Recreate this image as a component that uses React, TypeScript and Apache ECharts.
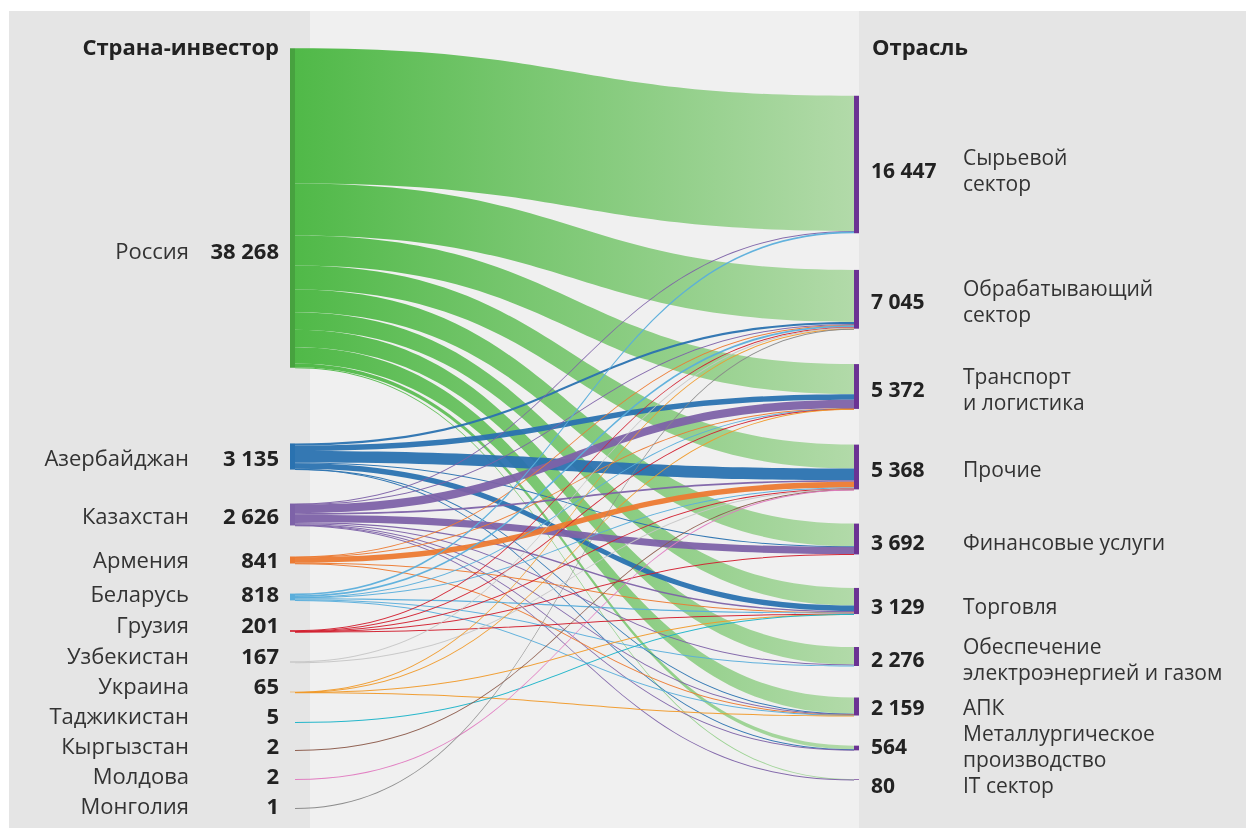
import React, { useEffect, useRef } from 'react';
import * as echarts from 'echarts';

// ---------- data ----------
const countries = ['Россия', 'Азербайджан', 'Казахстан', 'Армения', 'Беларусь', 'Грузия', 'Узбекистан', 'Украина', 'Таджикистан', 'Кыргызстан', 'Молдова', 'Монголия'];
const countryTotals = [38268, 3135, 2626, 841, 818, 201, 167, 65, 5, 2, 2, 1];

const sectors = ['Сырьевой сектор', 'Обрабатывающий сектор', 'Транспорт и логистика', 'Прочие', 'Финансовые услуги', 'Торговля', 'Обеспечение электроэнергией и газом', 'АПК', 'Металлургическое производство', 'IT сектор'];
const sectorLines = [['Сырьевой', 'сектор'], ['Обрабатывающий', 'сектор'], ['Транспорт', 'и логистика'], ['Прочие'], ['Финансовые услуги'], ['Торговля'], ['Обеспечение', 'электроэнергией и газом'], ['АПК'], ['Металлургическое', 'производство'], ['IT сектор']];
const sectorTotals = [16447, 7045, 5372, 5368, 3692, 3129, 2276, 2159, 564, 80];

// flows: one array per country, values in the order of `sectors`
const russiaFlows = [16187, 6234, 3613, 2870, 2716, 2108, 2106, 1941, 444, 50];
const azerbaijanFlows = [0, 250, 649, 1396, 80, 650, 0, 50, 60, 0];
const kazakhstanFlows = [60, 90, 1000, 200, 856, 160, 110, 60, 60, 30];
const armeniaFlows = [0, 50, 30, 681, 0, 40, 0, 40, 0, 0];
const belarusFlows = [200, 220, 30, 120, 0, 130, 60, 58, 0, 0];
const georgiaFlows = [0, 60, 40, 40, 40, 21, 0, 0, 0, 0];
const uzbekistanFlows = [0, 110, 0, 57, 0, 0, 0, 0, 0, 0];
const ukraineFlows = [0, 30, 10, 0, 0, 15, 0, 10, 0, 0];
const tajikistanFlows = [0, 0, 0, 0, 0, 5, 0, 0, 0, 0];
const kyrgyzstanFlows = [0, 0, 0, 2, 0, 0, 0, 0, 0, 0];
const moldovaFlows = [0, 0, 0, 2, 0, 0, 0, 0, 0, 0];
const mongoliaFlows = [0, 1, 0, 0, 0, 0, 0, 0, 0, 0];
const flows = [russiaFlows, azerbaijanFlows, kazakhstanFlows, armeniaFlows, belarusFlows, georgiaFlows, uzbekistanFlows, ukraineFlows, tajikistanFlows, kyrgyzstanFlows, moldovaFlows, mongoliaFlows];

// ---------- styles / layout ----------
const FONT = '"Open Sans", "Noto Sans", sans-serif';
const FS_LEFT = 22;
const FS_RIGHT = 21;
const LH = 26;
const countryColors = ['#4fb947', '#2a72b0', '#7d62a8', '#ec7a32', '#5aaedb', '#d2202f', '#c6c6c6', '#f09a2a', '#1ab3c8', '#8b5a4a', '#e07ac0', '#888888'];
const countryNodeColors = ['#47a23f', '#2a72b0', '#7d62a8', '#ec7a32', '#5aaedb', '#d2202f', '#c6c6c6', '#f09a2a', '#1ab3c8', '#222222', '#e07ac0', '#888888'];
const sectorColor = '#6b3393';

const SERIES_TOP = 42;
const SERIES_H = 770;
const NODE_GAP = 35;
const W = 1246;
const H = 829;

// node vertical centres (px) and label centres (px)
const countryCenters = [208, 456.5, 514.5, 560, 597, 631, 662, 692, 722, 750, 779, 808];
const countryLabelY = [250, 457, 515, 559, 593, 624, 655, 685, 715, 745, 775, 805];
const sectorCenters = [164.5, 299.3, 386.5, 467, 539, 601, 656.5, 706.5, 748, 779.5];
const sectorLabelY = [170, 301, 388.5, 469, 542, 606, 658.5, 707, 746, 785];

const fmt = (n: number) => String(n).replace(/\B(?=(\d{3})+(?!\d))/g, ' ');

export default function App() {
  const ref = useRef<HTMLDivElement>(null);

  useEffect(() => {
    if (!ref.current) return;
    const chart = echarts.init(ref.current, null, { renderer: 'svg' });

    const sum = (a: number[]) => a.reduce((s, v) => s + v, 0);
    const countryFlowSums = flows.map(sum);
    const grand = Math.max(sum(countryFlowSums), sum(sectorTotals));
    const ky = (SERIES_H - (countries.length - 1) * NODE_GAP) / grand;

    const nodes: any[] = [];
    countries.forEach((c, i) => {
      const h = countryFlowSums[i] * ky;
      const top = countryCenters[i] - h / 2;
      nodes.push({
        name: c,
        depth: 0,
        localY: (top - SERIES_TOP) / SERIES_H,
        itemStyle: { color: countryNodeColors[i], borderWidth: 0 },
        label: {
          position: 'left',
          distance: 11,
          offset: [0, countryLabelY[i] - countryCenters[i]],
          formatter: `{n|${c}}{v|${fmt(countryTotals[i])}}`,
        },
      });
    });
    sectors.forEach((s, i) => {
      const h = sectorTotals[i] * ky;
      const top = sectorCenters[i] - h / 2;
      const lines = sectorLines[i];
      const formatter =
        lines.length === 1
          ? `{rv|${fmt(sectorTotals[i])}}{rn|${lines[0]}}`
          : `{rv2|${fmt(sectorTotals[i])}}{rn|${lines[0]}}\n{sp| }{rn|${lines[1]}}`;
      nodes.push({
        name: s,
        depth: 1,
        localY: (top - SERIES_TOP) / SERIES_H,
        itemStyle: { color: sectorColor, borderWidth: 0 },
        label: {
          position: 'right',
          distance: 12,
          offset: [0, sectorLabelY[i] - sectorCenters[i]],
          formatter,
        },
      });
    });

    const links: any[] = [];
    flows.forEach((row, ci) => {
      row.forEach((v, si) => {
        if (!v) return;
        const color =
          ci === 0
            ? new echarts.graphic.LinearGradient(0, 0, 1, 0, [
                { offset: 0, color: '#50b948' },
                { offset: 1, color: '#b2daa9' },
              ])
            : countryColors[ci];
        links.push({
          source: countries[ci],
          target: sectors[si],
          value: v,
          lineStyle: { color, opacity: ci === 0 ? 1 : 0.95 },
        });
      });
    });

    const L = { fontFamily: FONT, fontSize: FS_LEFT };
    const R = { fontFamily: FONT, fontSize: FS_RIGHT };
    const rich = {
      n: { ...L, color: '#333', lineHeight: 28 },
      v: { ...L, fontWeight: 'bold', color: '#222', width: 90, align: 'right', lineHeight: 28 },
      rn: { ...R, color: '#333', lineHeight: LH },
      rv: { ...R, fontWeight: 'bold', color: '#222', width: 92, lineHeight: LH },
      rv2: { ...R, fontWeight: 'bold', color: '#222', width: 92, lineHeight: LH, padding: [LH, 0, 0, 0] },
      sp: { ...R, width: 92, lineHeight: LH },
    };

    chart.setOption({
      animation: false,
      graphic: [
        { type: 'rect', z: 0, shape: { x: 9, y: 11, width: 301, height: 817 }, style: { fill: '#e5e5e5' } },
        { type: 'rect', z: 0, shape: { x: 310, y: 11, width: 549, height: 817 }, style: { fill: '#f0f0f0' } },
        { type: 'rect', z: 0, shape: { x: 859, y: 11, width: W - 859, height: 817 }, style: { fill: '#e5e5e5' } },
        {
          type: 'text', z: 1, x: 279, y: 46,
          style: { text: 'Страна-инвестор', font: `bold ${FS_LEFT}px ${FONT}`, fill: '#222', textAlign: 'right', textVerticalAlign: 'middle' },
        },
        {
          type: 'text', z: 1, x: 872, y: 46,
          style: { text: 'Отрасль', font: `bold ${FS_LEFT}px ${FONT}`, fill: '#222', textAlign: 'left', textVerticalAlign: 'middle' },
        },
      ],
      series: [
        {
          type: 'sankey',
          z: 2,
          left: 290,
          right: 387,
          top: SERIES_TOP,
          bottom: H - SERIES_TOP - SERIES_H,
          nodeWidth: 5,
          nodeGap: NODE_GAP,
          layoutIterations: 0,
          draggable: false,
          silent: true,
          emphasis: { disabled: true },
          label: { show: true, fontFamily: FONT, fontSize: FS_RIGHT, rich },
          lineStyle: { curveness: 0.5 },
          data: nodes,
          links,
        },
      ],
    });

    return () => chart.dispose();
  }, []);

  return <div ref={ref} style={{ position: 'fixed', left: 0, top: 0, width: W, height: H }} />;
}
